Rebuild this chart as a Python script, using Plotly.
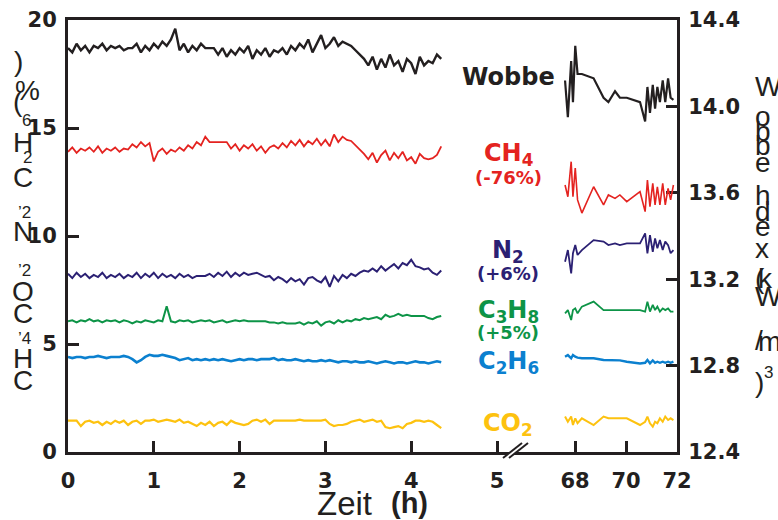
import plotly.graph_objects as go

# ---------------- data ----------------
t1 = [0.00,0.05,0.10,0.15,0.20,0.25,0.30,0.35,0.40,0.45,
      0.50,0.55,0.60,0.65,0.70,0.75,0.80,0.85,0.90,0.95,
      1.00,1.05,1.10,1.15,1.20,1.25,1.30,1.35,1.40,1.45,
      1.50,1.55,1.60,1.65,1.70,1.75,1.80,1.85,1.90,1.95,
      2.00,2.05,2.10,2.15,2.20,2.25,2.30,2.35,2.40,2.45,
      2.50,2.55,2.60,2.65,2.70,2.75,2.80,2.85,2.90,2.95,
      3.00,3.05,3.10,3.15,3.20,3.25,3.30,3.35,3.40,3.45,
      3.50,3.55,3.60,3.65,3.70,3.75,3.80,3.85,3.90,3.95,
      4.00,4.05,4.10,4.15,4.20,4.25,4.30,4.35]

wobbe_1 = [14.27,14.25,14.29,14.26,14.28,14.25,14.28,14.27,14.29,14.26,
           14.28,14.27,14.28,14.26,14.27,14.27,14.29,14.25,14.28,14.26,
           14.29,14.27,14.30,14.28,14.31,14.36,14.26,14.29,14.25,14.28,
           14.26,14.29,14.27,14.27,14.27,14.24,14.27,14.23,14.26,14.24,
           14.27,14.25,14.28,14.22,14.26,14.24,14.27,14.23,14.26,14.25,
           14.27,14.24,14.28,14.26,14.29,14.27,14.31,14.25,14.29,14.33,
           14.27,14.29,14.32,14.28,14.30,14.29,14.28,14.26,14.24,14.22,
           14.19,14.23,14.17,14.22,14.18,14.24,14.19,14.21,14.16,14.22,
           14.20,14.15,14.23,14.19,14.21,14.20,14.24,14.22]

ch4_1 = [13.9,14.1,13.85,14.05,13.95,14.1,13.9,14.15,13.85,14.05,
         13.95,14.1,13.9,14.05,14.0,14.25,14.1,14.35,14.15,14.3,
         13.45,13.9,14.05,13.8,14.0,13.9,14.1,13.95,14.2,14.05,
         14.35,14.2,14.6,14.35,14.35,14.35,14.35,14.35,14.05,14.25,
         13.95,14.2,14.05,14.25,13.95,14.15,13.85,14.1,14.2,14.05,
         14.3,14.1,14.4,14.2,14.45,14.15,14.4,14.25,14.5,14.2,
         14.45,14.15,14.7,14.35,14.6,14.45,14.4,14.2,14.0,13.8,
         13.55,13.85,13.4,13.75,13.95,13.5,13.85,13.6,13.9,13.5,
         13.65,13.35,13.8,13.6,13.55,13.6,13.75,14.15]

n2_1 = [8.25,8.05,8.3,8.1,8.25,8.05,8.2,8.1,8.3,8.05,
        8.2,8.1,8.25,8.05,8.2,8.1,8.3,8.05,8.25,8.1,
        8.3,8.05,8.25,8.1,8.2,8.05,8.25,8.1,8.2,8.05,
        8.15,8.15,8.15,8.25,8.1,8.3,8.15,8.35,8.1,8.3,
        8.15,8.3,8.2,8.25,8.3,8.2,8.1,8.15,7.95,8.1,
        8.0,7.85,8.05,7.9,8.0,7.75,8.05,8.1,7.95,7.85,
        8.1,7.65,8.15,7.9,8.2,8.05,8.25,8.15,8.3,8.4,
        8.35,8.5,8.35,8.6,8.4,8.55,8.7,8.5,8.75,8.65,
        8.9,8.6,8.55,8.45,8.5,8.3,8.2,8.4]

c3h8_1 = [6.05,6.1,6.0,6.1,6.05,6.15,6.05,6.1,6.0,6.1,
          6.05,6.1,6.0,6.1,6.05,5.95,6.05,6.0,6.1,6.05,
          6.0,6.1,6.05,6.75,6.05,6.0,6.1,6.05,6.1,6.0,
          6.05,6.1,6.05,6.1,6.0,6.05,6.1,6.0,6.05,6.1,
          6.05,6.1,6.05,6.05,6.05,6.05,6.05,6.0,6.0,5.95,
          6.0,5.95,5.95,5.95,6.0,5.9,6.0,5.95,6.05,5.85,
          6.0,6.05,5.95,6.1,6.0,6.1,6.05,6.15,6.1,6.2,
          6.15,6.2,6.25,6.15,6.35,6.25,6.3,6.4,6.3,6.35,
          6.3,6.3,6.3,6.3,6.2,6.15,6.25,6.3]

c2h6_1 = [4.4,4.35,4.4,4.4,4.35,4.4,4.4,4.45,4.4,4.35,
          4.4,4.4,4.4,4.45,4.4,4.3,4.15,4.25,4.4,4.5,
          4.45,4.45,4.5,4.45,4.4,4.35,4.25,4.3,4.35,4.25,
          4.3,4.25,4.3,4.25,4.3,4.25,4.3,4.25,4.2,4.25,
          4.3,4.25,4.3,4.3,4.25,4.3,4.3,4.3,4.35,4.25,
          4.3,4.25,4.25,4.3,4.25,4.2,4.25,4.2,4.2,4.25,
          4.2,4.25,4.2,4.15,4.2,4.2,4.15,4.2,4.15,4.15,
          4.2,4.15,4.1,4.15,4.2,4.15,4.1,4.15,4.15,4.1,
          4.15,4.2,4.15,4.15,4.1,4.15,4.2,4.15]

co2_1 = [1.45,1.45,1.45,1.2,1.4,1.45,1.35,1.4,1.25,1.4,
         1.3,1.45,1.35,1.45,1.25,1.4,1.45,1.3,1.45,1.45,
         1.5,1.4,1.45,1.5,1.45,1.4,1.5,1.35,1.4,1.3,
         1.2,1.35,1.25,1.4,1.2,1.35,1.4,1.25,1.45,1.35,
         1.3,1.25,1.3,1.45,1.5,1.4,1.5,1.3,1.45,1.45,
         1.45,1.45,1.45,1.45,1.5,1.45,1.45,1.45,1.45,1.45,
         1.5,1.3,1.2,1.25,1.25,1.3,1.4,1.45,1.5,1.4,
         1.45,1.5,1.4,1.45,1.15,1.1,1.15,1.2,1.1,1.3,
         1.35,1.45,1.45,1.4,1.45,1.4,1.25,1.1]

t2 = [67.61,67.72,67.85,67.92,68.01,68.10,68.27,68.73,69.12,69.31,
      69.57,69.76,70.03,70.55,70.75,70.84,70.94,71.05,71.14,71.23,
      71.33,71.44,71.54,71.65,71.75,71.86]

wobbe_2 = [14.12,13.95,14.21,14.02,14.28,14.15,14.15,14.13,14.04,14.02,
           14.07,14.04,14.04,14.02,13.93,14.09,13.97,14.10,13.99,14.09,
           14.02,14.12,14.02,14.13,14.04,14.03]
ch4_2 = [12.36,11.82,13.44,11.82,13.15,11.67,11.06,12.28,11.44,11.90,
         11.74,11.90,11.59,12.05,11.13,12.59,11.36,12.44,11.44,12.28,
         11.44,12.44,11.44,12.20,11.67,12.36]
n2_2 = [8.81,9.35,8.27,9.20,9.58,9.12,9.35,9.81,9.74,9.58,
        9.66,9.58,9.66,9.66,10.12,9.20,10.04,9.27,9.89,9.43,
        9.81,9.35,9.74,9.58,9.20,9.35]
c3h8_2 = [6.42,6.57,6.11,6.57,6.65,6.42,6.73,6.96,6.57,6.57,
          6.57,6.57,6.57,6.57,6.50,6.96,6.50,6.81,6.57,6.73,
          6.50,6.65,6.57,6.65,6.50,6.50]
c2h6_2 = [4.41,4.49,4.34,4.49,4.41,4.37,4.34,4.34,4.26,4.26,
          4.24,4.24,4.18,4.10,4.13,4.26,4.10,4.24,4.13,4.18,
          4.13,4.18,4.13,4.18,4.13,4.18]
co2_2 = [1.64,1.40,1.64,1.25,1.56,1.33,1.56,1.25,1.64,1.56,
         1.56,1.56,1.56,1.25,1.40,1.64,1.33,1.17,1.40,1.33,
         1.56,1.40,1.64,1.48,1.56,1.48]

x1_ticks = [0, 1, 2, 3, 4, 5]
x2_ticks = [68, 70, 72]
y1_ticks = [0, 5, 10, 15, 20]
y2_ticks = [12.4, 12.8, 13.2, 13.6, 14.0, 14.4]
y2_ticktext = ["12.4", "12.8", "13.2", "13.6", "14.0", "14.4"]

# ---------------- styling ----------------
INK = "#231f20"
C_W, C_CH4, C_N2, C_C3, C_C2, C_CO2 = INK, "#e42320", "#2b2073", "#0d9447", "#0b80cf", "#fdc20f"

L, R, T, B = 68, 677, 20, 452
W, H = 778, 520
def px(p):
    return (p - L) / (R - L)
def py(p):
    return (B - p) / (B - T)

split = 540
X1_RANGE = [0, (split - L) / 85.8]
X2_RANGE = [72 - (R - split) / 25.5, 72]

fig = go.Figure()

def add(x, y, color, width, xa, ya):
    fig.add_trace(go.Scatter(x=x, y=y, mode="lines", xaxis=xa, yaxis=ya,
                             line=dict(color=color, width=width), showlegend=False,
                             hoverinfo="skip"))

# CO2, C2H6, C3H8, N2, CH4 on the left axis; Wobbe on the right axis
add(t1, co2_1, C_CO2, 2.2, "x", "y")
add(t2, co2_2, C_CO2, 2.0, "x2", "y")
add(t1, c2h6_1, C_C2, 2.6, "x", "y")
add(t2, c2h6_2, C_C2, 2.4, "x2", "y")
add(t1, c3h8_1, C_C3, 2.0, "x", "y")
add(t2, c3h8_2, C_C3, 1.8, "x2", "y")
add(t1, n2_1, C_N2, 2.0, "x", "y")
add(t2, n2_2, C_N2, 1.8, "x2", "y")
add(t1, ch4_1, C_CH4, 1.8, "x", "y")
add(t2, ch4_2, C_CH4, 1.6, "x2", "y")
add(t1, wobbe_1, C_W, 2.4, "x", "y2")
add(t2, wobbe_2, C_W, 2.2, "x2", "y2")

TICKFONT = dict(family="DejaVu Sans", size=21, color=INK, weight="bold")

axis_common = dict(showline=True, linecolor=INK, linewidth=3, ticks="inside",
                   ticklen=11, tickwidth=3, tickcolor=INK, showgrid=False,
                   zeroline=False, tickfont=TICKFONT, automargin=False)

fig.update_layout(
    width=W, height=H,
    margin=dict(l=L, r=W - R, t=T, b=H - B, pad=0, autoexpand=False),
    paper_bgcolor="white", plot_bgcolor="white",
    xaxis=dict(domain=[0, px(split)], range=X1_RANGE, tickmode="array",
               tickvals=x1_ticks, anchor="y", mirror=True, ticklabelstandoff=8,
               **axis_common),
    xaxis2=dict(domain=[px(split), 1], range=X2_RANGE, tickmode="array",
                tickvals=x2_ticks, anchor="y", mirror=True, ticklabelstandoff=8,
                **axis_common),
    yaxis=dict(range=[0, 20], tickmode="array", tickvals=y1_ticks, anchor="x",
               side="left", ticklabelstandoff=4, **axis_common),
    yaxis2=dict(range=[12.4, 14.4], tickmode="array", tickvals=y2_ticks,
                ticktext=y2_ticktext, anchor="x2", overlaying="y", side="right",
                ticklabelstandoff=4, **axis_common),
)

# axis break marker
x_a, x_b, x_c, x_d = 503, 522, 509, 528
y_lo, y_hi = 458, 443
fig.add_shape(type="path", xref="paper", yref="paper",
              path=f"M {px(x_a)} {py(y_lo)} L {px(x_b)} {py(y_hi)} L {px(x_d)} {py(y_hi)} L {px(x_c)} {py(y_lo)} Z",
              fillcolor="white", line=dict(width=0), layer="above")
for (xs, xe) in [(x_a, x_b), (x_c, x_d)]:
    fig.add_shape(type="line", xref="paper", yref="paper",
                  x0=px(xs), y0=py(y_lo), x1=px(xe), y1=py(y_hi),
                  line=dict(color=INK, width=2), layer="above")

# series labels
LABEL_X = px(508)
labels = [
    ("Wobbe", 77, 24, C_W),
    ("CH<sub>4</sub>", 154, 24, C_CH4),
    ("(-76%)", 177, 18, C_CH4),
    ("N<sub>2</sub>", 251, 24, C_N2),
    ("(+6%)", 273, 18, C_N2),
    ("C<sub>3</sub>H<sub>8</sub>", 311, 24, C_C3),
    ("(+5%)", 332, 18, C_C3),
    ("C<sub>2</sub>H<sub>6</sub>", 362, 24, C_C2),
    ("CO<sub>2</sub>", 424, 24, C_CO2),
]
for text, ypix, size, color in labels:
    fig.add_annotation(text=f"<b>{text}</b>", xref="paper", yref="paper",
                       x=LABEL_X, y=py(ypix), xanchor="center", yanchor="middle",
                       showarrow=False,
                       font=dict(family="DejaVu Sans", size=size, color=color))

# x-axis title
fig.add_annotation(text="Zeit", xref="paper", yref="paper", x=px(344), y=py(503),
                   xanchor="center", yanchor="middle", showarrow=False,
                   font=dict(family="Liberation Sans", size=33, color=INK))
fig.add_annotation(text="<b>(h)</b>", xref="paper", yref="paper", x=px(409), y=py(503),
                   xanchor="center", yanchor="middle", showarrow=False,
                   font=dict(family="Liberation Sans", size=29, color=INK))

# left axis title (stacked glyphs, as in the original)
left_title = [(")", 62, 28, 18), ("%", 90, 28, 27), ("(", 101, 28, 18), ("6", 120, 17, 26),
              ("H", 142, 28, 23), ("2", 157, 17, 27), ("C", 178, 28, 23), ("’2", 212, 17, 24),
              ("N", 232, 28, 23), ("’2", 270, 17, 24), ("O", 291, 28, 23), ("C", 313, 28, 23),
              ("’4", 338, 17, 24), ("H", 358, 28, 23), ("C", 380, 28, 23)]
for ch, ypix, size, xpix in left_title:
    fig.add_annotation(text=ch, xref="paper", yref="paper", x=px(xpix), y=py(ypix),
                       xanchor="center", yanchor="middle", showarrow=False,
                       font=dict(family="Liberation Sans", size=size, color=INK))

# right axis title (stacked glyphs)
right_title = [("W", 87, 28, 753), ("o", 116, 28, 753), ("b", 131, 28, 753), ("b", 145, 28, 753),
               ("e", 162, 28, 753), ("h", 195, 28, 753), ("d", 211, 28, 753), ("e", 226, 28, 753),
               ("x", 248, 28, 753), ("(", 278, 28, 753), ("k", 278, 28, 756), ("W", 296, 28, 753),
               ("/", 340, 28, 753), ("m", 341, 28, 756), (")", 382, 28, 753), ("3", 372, 17, 762)]
for ch, ypix, size, xpix in right_title:
    fig.add_annotation(text=ch, xref="paper", yref="paper", x=px(xpix), y=py(ypix),
                       xanchor="left", yanchor="middle", showarrow=False,
                       font=dict(family="Liberation Sans", size=size, color=INK))

fig.write_html("out.html", config={"displayModeBar": False},
               post_script="document.body.style.margin='0px';document.body.style.overflow='hidden';")
